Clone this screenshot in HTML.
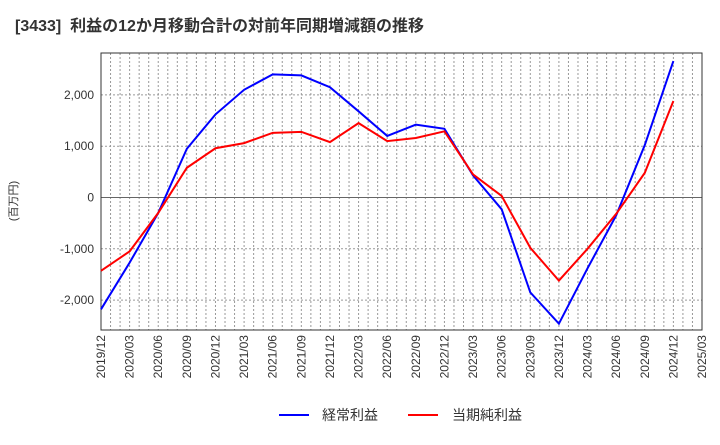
<!DOCTYPE html>
<html><head><meta charset="utf-8"><style>
body{margin:0;background:#fff;font-family:"Liberation Sans","Noto Sans CJK JP",sans-serif;}
</style></head><body>
<svg id="c" width="720" height="440" xmlns="http://www.w3.org/2000/svg">
<text x="15" y="31" font-size="16" font-weight="bold" fill="#333" xml:space="preserve" font-family="Liberation Sans, Noto Sans CJK JP, sans-serif">[3433]  利益の12か月移動合計の対前年同期増減額の推移</text>
<text transform="translate(17,201) rotate(-90)" font-size="11" fill="#333" text-anchor="middle" font-family="Liberation Sans, Noto Sans CJK JP, sans-serif">(百万円)</text>
<g id="grid"></g><g id="axes"></g><g id="series"></g>
<g>
<line x1="279" y1="415" x2="309" y2="415" stroke="#0000ff" stroke-width="2"/>
<text x="322" y="420" font-size="14" fill="#333" font-family="Liberation Sans, Noto Sans CJK JP, sans-serif">経常利益</text>
<line x1="408" y1="415" x2="438" y2="415" stroke="#ff0000" stroke-width="2"/>
<text x="452" y="420" font-size="14" fill="#333" font-family="Liberation Sans, Noto Sans CJK JP, sans-serif">当期純利益</text>
</g>
</svg>
<script>
const xLabels=["2019/12","2020/03","2020/06","2020/09","2020/12","2021/03","2021/06","2021/09","2021/12","2022/03","2022/06","2022/09","2022/12","2023/03","2023/06","2023/09","2023/12","2024/03","2024/06","2024/09","2024/12","2025/03"];
const yTicks=[-2000,-1000,0,1000,2000];
const ordinary=[-2180,-1270,-300,950,1620,2100,2400,2380,2150,1680,1200,1420,1340,430,-230,-1850,-2460,-1380,-350,1020,2660];
const netIncome=[-1430,-1050,-300,580,960,1060,1260,1280,1080,1450,1100,1160,1290,450,30,-980,-1620,-1000,-320,480,1880];
const NS="http://www.w3.org/2000/svg";
const L=101,R=702,T=53,B=330;
const x=i=>L+(R-L)*i/(xLabels.length-1);
const y=v=>197.5-v*0.0513;
function mk(t,a,p){const e=document.createElementNS(NS,t);for(const k in a)e.setAttribute(k,a[k]);p.appendChild(e);return e;}
const g=document.getElementById('grid'),ax=document.getElementById('axes'),s=document.getElementById('series');
for(let m=1;m<(xLabels.length-1)*3;m++){const xx=L+(R-L)*m/((xLabels.length-1)*3);
const l=mk('line',{x1:xx,x2:xx,y1:T,y2:B,stroke:'#999','stroke-dasharray':'2,2','stroke-width':1},g);

}
yTicks.forEach(v=>{const l=mk('line',{x1:L,x2:R,y1:y(v),y2:y(v),stroke:v===0?'#666':'#999','stroke-dasharray':v===0?'none':'2,2','stroke-width':1},g);


const t=mk('text',{x:L-7,y:y(v)+4,'font-size':12,fill:'#333','text-anchor':'end'},ax);t.textContent=v.toLocaleString('en-US');

});
const fr=mk('rect',{x:L,y:T,width:R-L,height:B-T,fill:'none',stroke:'#333'},ax);


xLabels.forEach((lb,i)=>{const t=mk('text',{transform:`translate(${x(i)+4},${B+5}) rotate(-90)`,'font-size':12,fill:'#333','text-anchor':'end'},ax);t.textContent=lb;

});
[[ordinary,'#0000ff','line-ordinary-profit'],[netIncome,'#ff0000','line-net-income']].forEach(([d,c,n])=>{
const p=mk('polyline',{points:d.map((v,i)=>x(i)+','+y(v)).join(' '),fill:'none',stroke:c,'stroke-width':2},s);

});
</script>
</body></html>
